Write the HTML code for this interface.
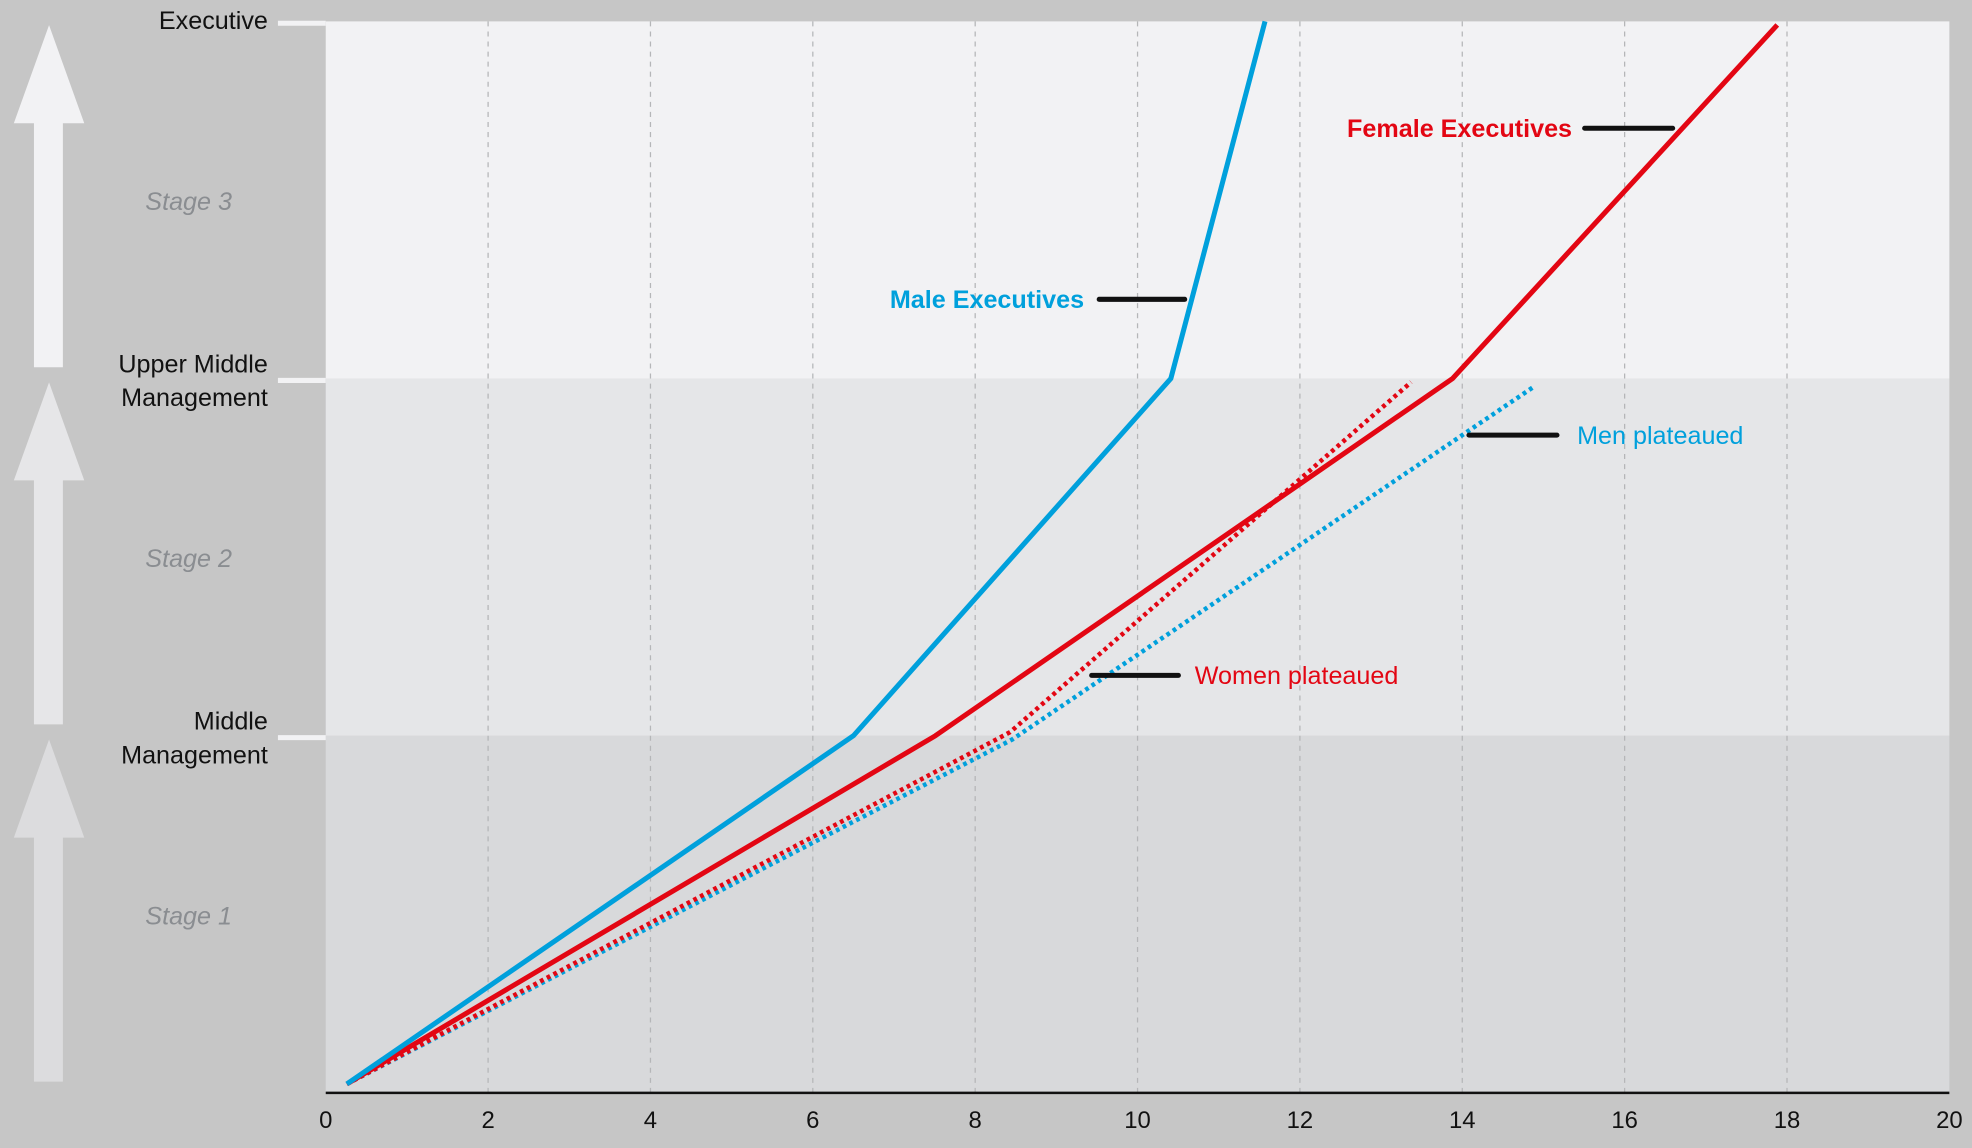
<!DOCTYPE html>
<html><head><meta charset="utf-8"><style>
html,body{margin:0;padding:0;background:#c6c6c6;}
svg{display:block;}
text{font-family:"Liberation Sans",sans-serif;}
</style></head><body>
<svg id="chart" width="1972" height="1148" viewBox="0 0 1568 912.8" preserveAspectRatio="none" xmlns="http://www.w3.org/2000/svg">
<rect x="0" y="0" width="1568" height="913" fill="#c6c6c6"/>
<g id="bands"></g>
<g id="grid"></g>
<g id="left"></g>
<g id="series"></g>
<g id="annot"></g>
<g id="xaxis"></g>
</svg>
<script>
const NS='http://www.w3.org/2000/svg';
// data
const xTicks=[0,2,4,6,8,10,12,14,16,18,20];
const levelNames=[["Middle","Management"],["Upper Middle","Management"],["Executive"]];
const stageNames=["Stage 1","Stage 2","Stage 3"];
const maleExecX=[0.26,6.5,10.41,11.57];
const maleExecY=[0.025,1.0,2.0,3.0];
const femaleExecX=[0.26,7.51,13.88,17.88];
const femaleExecY=[0.025,1.0,2.0,2.99];
const womenPlatX=[0.26,8.43,13.37];
const womenPlatY=[0.025,1.01,1.99];
const menPlatX=[0.26,8.46,14.9];
const menPlatY=[0.025,0.99,1.98];

const L=259,R=1550,T=17,B=869;
const xs=v=>L+(v-0)/(20-0)*(R-L);
const ys=v=>B-(v/3)*(B-T);
function mk(tag,attrs,parent){const e=document.createElementNS(NS,tag);for(const k in attrs)e.setAttribute(k,attrs[k]);parent.appendChild(e);return e;}
const g=id=>document.getElementById(id);

const bandCols=['#d8d9db','#e5e6e8','#f2f2f4'];
const arrowCols=['#dcdcde','#e6e6e8','#f2f2f4'];
for(let i=0;i<3;i++){
  const r=mk('rect',{x:L,y:ys(i+1),width:R-L,height:ys(i)-ys(i+1),fill:bandCols[i]},g('bands'));
  
  
  // arrow
  const top=ys(i+1)+3, bot=ys(i)-9, base=top+78;
  const a=mk('polygon',{points:`39,${top} 67,${base} 50,${base} 50,${bot} 27,${bot} 27,${base} 11,${base}`,fill:arrowCols[i]},g('left'));
  
  
  const st=mk('text',{x:150,y:(ys(i)+ys(i+1))/2+8,'text-anchor':'middle','font-size':20,'font-style':'italic',fill:'#8a8d91'},g('left'));
  st.textContent=stageNames[i];
  
  
  // level tick + label
  const ly=ys(i+1);
  const tk=mk('line',{x1:221,x2:L,y1:ly+1.5,y2:ly+1.5,stroke:'#f2f2f4','stroke-width':4},g('left'));
  
  
  const lines=levelNames[i];
  const t=mk('text',{'text-anchor':'end','font-size':20,fill:'#111'},g('left'));
  
  
  lines.forEach((s,j)=>{const sp=mk('tspan',{x:213,y:(lines.length==1?ly+6:ly-5+j*27)},t);sp.textContent=s;});
}
xTicks.forEach(v=>{
  if(v>0&&v<20){const l=mk('line',{x1:xs(v),x2:xs(v),y1:T,y2:B,stroke:'#b5b6b8','stroke-width':1,'stroke-dasharray':'4 4'},g('grid'));
  
  }
  const t=mk('text',{x:xs(v),y:897,'text-anchor':'middle','font-size':19,fill:'#111'},g('xaxis'));
  t.textContent=v;
  
  
});
const ax=mk('line',{x1:L,x2:R,y1:B,y2:B,stroke:'#111','stroke-width':2},g('xaxis'));



function series(X,Y,col,dotted,name){
  const p=mk('polyline',{points:X.map((x,i)=>xs(x)+','+ys(Y[i])).join(' '),fill:'none',stroke:col,'stroke-width':4,'stroke-linejoin':'round'},g('series'));
  if(dotted){p.setAttribute('stroke-dasharray','3 3');p.setAttribute('stroke-width','3.6');}
  
  
}
const RED='#e30613',BLUE='#00a0dc';
series(menPlatX,menPlatY,BLUE,true,'men-plateaued-line');
series(womenPlatX,womenPlatY,RED,true,'women-plateaued-line');
series(femaleExecX,femaleExecY,RED,false,'female-executives-line');
series(maleExecX,maleExecY,BLUE,false,'male-executives-line');

function annot(x1,x2,y,tx,anchor,txt,col,bold,name){
  const l=mk('line',{x1:x1,x2:x2,y1:y,y2:y,stroke:'#111','stroke-width':4,'stroke-linecap':'round'},g('annot'));
  
  
  const t=mk('text',{x:tx,y:y+7,'text-anchor':anchor,'font-size':20,fill:col,'font-weight':bold?'bold':'normal'},g('annot'));
  t.textContent=txt;
  
  
}
annot(874,942,238,862,'end','Male Executives',BLUE,true,'male-executives');
annot(1260,1330,102,1250,'end','Female Executives',RED,true,'female-executives');
annot(1168,1238,346,1254,'start','Men plateaued',BLUE,false,'men-plateaued');
annot(868,937,537,950,'start','Women plateaued',RED,false,'women-plateaued');
</script>
</body></html>
